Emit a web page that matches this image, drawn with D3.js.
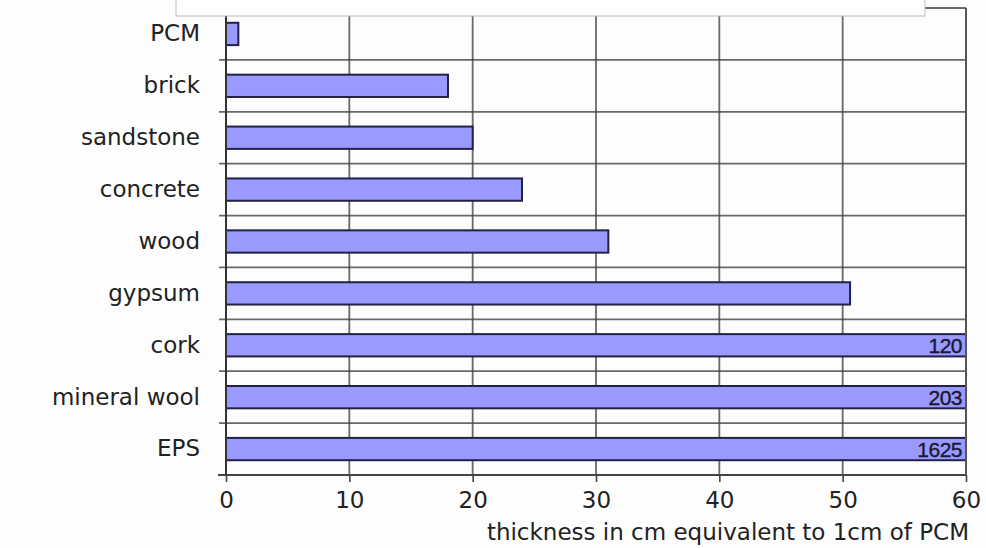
<!DOCTYPE html>
<html><head><meta charset="utf-8">
<script src="https://cdn.jsdelivr.net/npm/d3@7"></script>
<style>body{margin:0;background:#fdfdfd;} svg{display:block;}</style>
</head><body>
<script>
const categories = ["PCM","brick","sandstone","concrete","wood","gypsum","cork","mineral wool","EPS"];
const values = [1, 18, 20, 24, 31, 50.6, 120, 203, 1625];
const overflowLabels = ["", "", "", "", "", "", "120", "203", "1625"];
const xTicks = [0,10,20,30,40,50,60];
const xTitle = "thickness in cm equivalent to 1cm of PCM";

const W = 986, H = 548;
const m = {left:226, right:20, top:8, bottom:73};
const iw = W - m.left - m.right, ih = H - m.top - m.bottom;
const font = "'DejaVu Sans', Verdana, sans-serif";
const fs = 23;

const svg = d3.select("body").append("svg").attr("width", W).attr("height", H);
svg.append("rect").attr("width", W).attr("height", H).attr("fill", "#fdfdfd");

const x = d3.scaleLinear().domain([0,60]).range([0, iw]);
const y = d3.scaleBand().domain(categories).range([0, ih]).paddingInner(0.57).paddingOuter(0.285);

const g = svg.append("g").attr("transform", `translate(${m.left},${m.top})`);

// vertical gridlines
g.selectAll(".vg").data(xTicks.slice(1)).enter().append("line")
  .attr("x1", d => x(d)).attr("x2", d => x(d)).attr("y1", 0).attr("y2", ih)
  .attr("stroke", "#444").attr("stroke-width", 1.8).attr("stroke-opacity", 0.8);
// horizontal gridlines at band boundaries
const step = ih / categories.length;
const bounds = d3.range(0, categories.length + 1).map(i => i * step);
g.selectAll(".hg").data(bounds).enter().append("line")
  .attr("x1", -7).attr("x2", iw).attr("y1", d => d).attr("y2", d => d)
  .attr("stroke", "#444").attr("stroke-width", 1.8).attr("stroke-opacity", 0.8);

// bars
g.selectAll(".bar").data(values).enter().append("rect")
  .attr("x", 0).attr("y", (d,i) => y(categories[i]))
  .attr("width", d => x(Math.min(d, 60))).attr("height", y.bandwidth())
  .attr("fill", "#9999ff").attr("stroke", "#222244").attr("stroke-width", 2);

// overflow value labels
g.selectAll(".vl").data(values).enter().append("text")
  .attr("x", x(60) - 4).attr("y", (d,i) => y(categories[i]) + y.bandwidth()/2)
  .attr("dy", "0.36em").attr("text-anchor", "end")
  .attr("font-family", "'Liberation Sans', Arial, sans-serif").attr("font-size", 21)
  .attr("letter-spacing", -0.5).attr("fill", "#1a1a33")
  .attr("stroke", "#1a1a33").attr("stroke-width", 0.4)
  .text((d,i) => overflowLabels[i]);

// axes
const xAxis = d3.axisBottom(x).tickValues(xTicks).tickSize(7).tickPadding(10).tickFormat(d3.format("d"));
const xa = g.append("g").attr("transform", `translate(0,${ih})`).call(xAxis);
xa.select(".domain").attr("stroke", "#444").attr("stroke-width", 2).attr("d", `M-8,0H${iw}`);
xa.selectAll(".tick line").attr("stroke", "#444").attr("stroke-width", 1.6);
xa.selectAll("text").attr("font-family", font).attr("font-size", fs).attr("fill", "#222");

const yAxis = d3.axisLeft(y).tickSize(0).tickPadding(26);
const ya = g.append("g").call(yAxis);
ya.select(".domain").attr("stroke", "#333").attr("stroke-width", 2).attr("d", `M0,0V${ih}`);
ya.selectAll("text").attr("font-family", font).attr("font-size", fs).attr("fill", "#222");

// right border
g.append("line").attr("x1", iw).attr("x2", iw).attr("y1", 0).attr("y2", ih)
  .attr("stroke", "#555").attr("stroke-width", 2);

// axis title
svg.append("text").attr("x", m.left + iw + 3).attr("y", 540).attr("text-anchor", "end")
  .attr("font-family", font).attr("font-size", fs).attr("fill", "#222").text(xTitle);

// clipped box at top
svg.append("rect").attr("x", 176).attr("y", -2).attr("width", 749).attr("height", 18)
  .attr("fill", "#fff").attr("stroke", "#bbb").attr("stroke-width", 1);
</script>
</body></html>
